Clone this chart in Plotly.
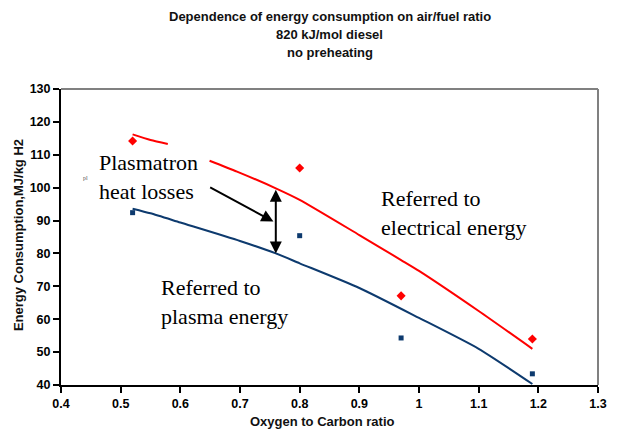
import plotly.graph_objects as go

# ---- data ----
elec_pts_x = [0.52, 0.80, 0.97, 1.19]
elec_pts_y = [114.2, 106.0, 67.1, 54.0]
plasma_pts_x = [0.52, 0.80, 0.97, 1.19]
plasma_pts_y = [92.4, 85.4, 54.3, 43.4]

elec_fit_x = [0.52, 0.55, 0.579, None, 0.649, 0.695, 0.76, 0.80, 0.90, 0.97, 1.00, 1.10, 1.19]
elec_fit_y = [116.2, 114.5, 113.3, None, 108.2, 104.9, 99.8, 96.3, 85.6, 78.0, 74.7, 62.5, 51.0]
plasma_fit_x = [0.52, 0.55, 0.60, 0.70, 0.76, 0.80, 0.90, 1.00, 1.10, 1.19]
plasma_fit_y = [93.6, 92.2, 89.4, 83.8, 80.0, 77.0, 69.5, 60.4, 51.0, 40.3]

x_ticks = [0.4, 0.5, 0.6, 0.7, 0.8, 0.9, 1.0, 1.1, 1.2, 1.3]
y_ticks = [40, 50, 60, 70, 80, 90, 100, 110, 120, 130]

title_lines = ["Dependence of energy consumption on air/fuel ratio",
               "820 kJ/mol diesel", "no preheating"]

RED = "#ff0000"
BLUE = "#0d3a6e"
BOLD = "Liberation Sans, Arial, sans-serif"
SERIF = "Liberation Serif, Times New Roman, serif"

fig = go.Figure()
fig.add_trace(go.Scatter(x=elec_fit_x, y=elec_fit_y, mode="lines",
                         line=dict(color=RED, width=2, shape="spline", smoothing=0.6),
                         connectgaps=False, hoverinfo="skip", showlegend=False))
fig.add_trace(go.Scatter(x=plasma_fit_x, y=plasma_fit_y, mode="lines",
                         line=dict(color=BLUE, width=2, shape="spline", smoothing=0.6),
                         hoverinfo="skip", showlegend=False))
fig.add_trace(go.Scatter(x=elec_pts_x, y=elec_pts_y, mode="markers",
                         marker=dict(symbol="diamond", size=7, color=RED),
                         showlegend=False))
fig.add_trace(go.Scatter(x=plasma_pts_x, y=plasma_pts_y, mode="markers",
                         marker=dict(symbol="square", size=5, color=BLUE),
                         showlegend=False))

axis_common = dict(showline=True, linecolor="black", linewidth=2,
                   ticks="outside", ticklen=6, tickwidth=2, tickcolor="black",
                   showgrid=False, zeroline=False,
                   tickfont=dict(family=BOLD, size=12.5, color="#000"))

fig.update_xaxes(range=[0.4, 1.3], tickvals=x_ticks,
                 ticktext=[f"<b>{v:g}</b>" for v in x_ticks], **axis_common)
fig.update_yaxes(range=[40, 130], tickvals=y_ticks,
                 ticktext=[f"<b>{v}</b>" for v in y_ticks], **axis_common)

annotations = []
for line, ypos in zip(title_lines, [1.2450, 1.1840, 1.1233]):
    annotations.append(dict(text=f"<b>{line}</b>", xref="paper", yref="paper",
                            x=0.5, y=ypos, xanchor="center", yanchor="middle",
                            showarrow=False,
                            font=dict(family=BOLD, size=13, color="#111")))

annotations += [
    dict(text="<b>Oxygen to Carbon ratio</b>", xref="paper", yref="paper",
         x=0.487, y=-0.122, xanchor="center", yanchor="middle", showarrow=False,
         font=dict(family=BOLD, size=13, color="#111")),
    dict(text="<b>Energy Consumption,MJ/kg H2</b>", xref="paper", yref="paper",
         x=-0.079, y=0.505, xanchor="center", yanchor="middle", textangle=-90,
         showarrow=False, font=dict(family=BOLD, size=13, color="#111")),
    dict(text="Plasmatron<br>heat losses", xref="x", yref="y", x=0.461, y=103.1,
         xanchor="left", yanchor="middle", align="left", showarrow=False,
         font=dict(family=SERIF, size=22, color="black")),
    dict(text="Referred to<br>electrical energy", xref="x", yref="y", x=0.933, y=92.3,
         xanchor="left", yanchor="middle", align="left", showarrow=False,
         font=dict(family=SERIF, size=22, color="black")),
    dict(text="Referred to<br>plasma energy", xref="x", yref="y", x=0.565, y=65.3,
         xanchor="left", yanchor="middle", align="left", showarrow=False,
         font=dict(family=SERIF, size=22, color="black")),
    dict(text="pl", xref="x", yref="y", x=0.441, y=103.0, xanchor="center",
         yanchor="middle", showarrow=False, font=dict(family=SERIF, size=6, color="#555")),
    # diagonal arrow
    dict(text="", xref="x", yref="y", axref="x", ayref="y",
         x=0.756, y=89.7, ax=0.6475, ay=100.3, showarrow=True,
         arrowhead=2, arrowsize=1.2, arrowwidth=2, arrowcolor="black", standoff=0),
    # vertical double arrow
    dict(text="", xref="x", yref="y", axref="x", ayref="y",
         x=0.76, y=80.0, ax=0.76, ay=99.8, showarrow=True, arrowside="end+start",
         arrowhead=2, startarrowhead=2, arrowsize=1.2, startarrowsize=1.2,
         arrowwidth=2, arrowcolor="black", standoff=0, startstandoff=0),
]

shapes = [
    dict(type="line", xref="paper", yref="paper", x0=0, x1=1, y0=1, y1=1,
         line=dict(color="#808080", width=2)),
    dict(type="line", xref="paper", yref="paper", x0=1, x1=1, y0=0, y1=1,
         line=dict(color="#808080", width=2)),
]

fig.update_layout(width=617, height=432,
                  margin=dict(l=61, r=10, t=89, b=47, pad=0),
                  paper_bgcolor="white", plot_bgcolor="white",
                  annotations=annotations, shapes=shapes, showlegend=False)

fig.write_html("out.html")
